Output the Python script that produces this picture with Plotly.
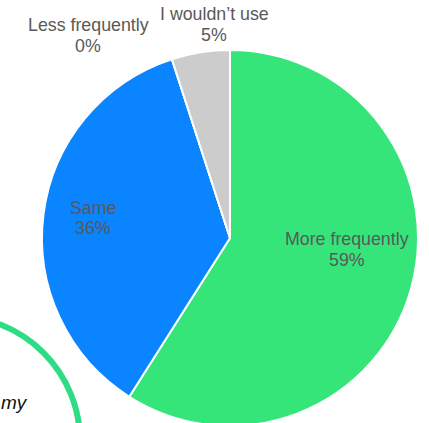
import plotly.graph_objects as go

# Survey answers, in clockwise order from 12 o'clock
labels = ["More frequently", "Same", "Less frequently", "I wouldn’t use"]
values = [59, 36, 0, 5]
colors = ["#35E57A", "#0A84FF", "#FFC000", "#CCCCCC"]

W, H = 429, 426
R = 188
CX, CY = 230, 238  # pie centre in px from the top-left

# Label positions in px from the top-left (centre of the first line)
label_px = [(347, 239.5), (93, 207.5), (88, 25), (214, 14)]
LINE_PITCH = 20.5

FONT = dict(family="Liberation Sans, Arial, sans-serif", size=17.8, color="#595959")

fig = go.Figure(
    go.Pie(
        labels=labels,
        values=values,
        sort=False,
        direction="clockwise",
        rotation=0,
        marker=dict(colors=colors, line=dict(color="white", width=2)),
        textinfo="none",
        hoverinfo="label+percent",
        showlegend=False,
        domain=dict(x=[(CX - R) / W, (CX + R) / W], y=[(H - CY - R) / H, (H - CY + R) / H]),
    )
)

for lab, val, (px, py) in zip(labels, values, label_px):
    for i, line in enumerate([lab, f"{val}%"]):
        fig.add_annotation(
            x=px / W, y=(H - py - i * LINE_PITCH) / H, xref="paper", yref="paper",
            text=line, showarrow=False,
            xanchor="center", yanchor="middle",
            font=FONT,
        )

# Decorative ring peeking in at the lower-left corner
ring_cx, ring_cy, ring_r = -45, 441, 125
fig.add_shape(
    type="circle", xref="paper", yref="paper",
    x0=(ring_cx - ring_r) / W, x1=(ring_cx + ring_r) / W,
    y0=(H - ring_cy - ring_r) / H, y1=(H - ring_cy + ring_r) / H,
    line=dict(color="#2EDC86", width=6),
    layer="below",
)
fig.add_annotation(
    x=0, y=(H - 402) / H, xref="paper", yref="paper", xshift=-1.5,
    text="<i>my</i>", showarrow=False, xanchor="left", yanchor="middle",
    font=dict(family="Liberation Sans, Arial, sans-serif", size=19, color="#111111"),
)

fig.update_layout(
    width=W, height=H,
    margin=dict(l=0, r=0, t=0, b=0),
    paper_bgcolor="white",
    plot_bgcolor="white",
)

fig.write_html(
    "out.html",
    post_script="document.body.style.margin='0';document.body.style.overflow='hidden';"
                "document.documentElement.style.overflow='hidden';",
)
